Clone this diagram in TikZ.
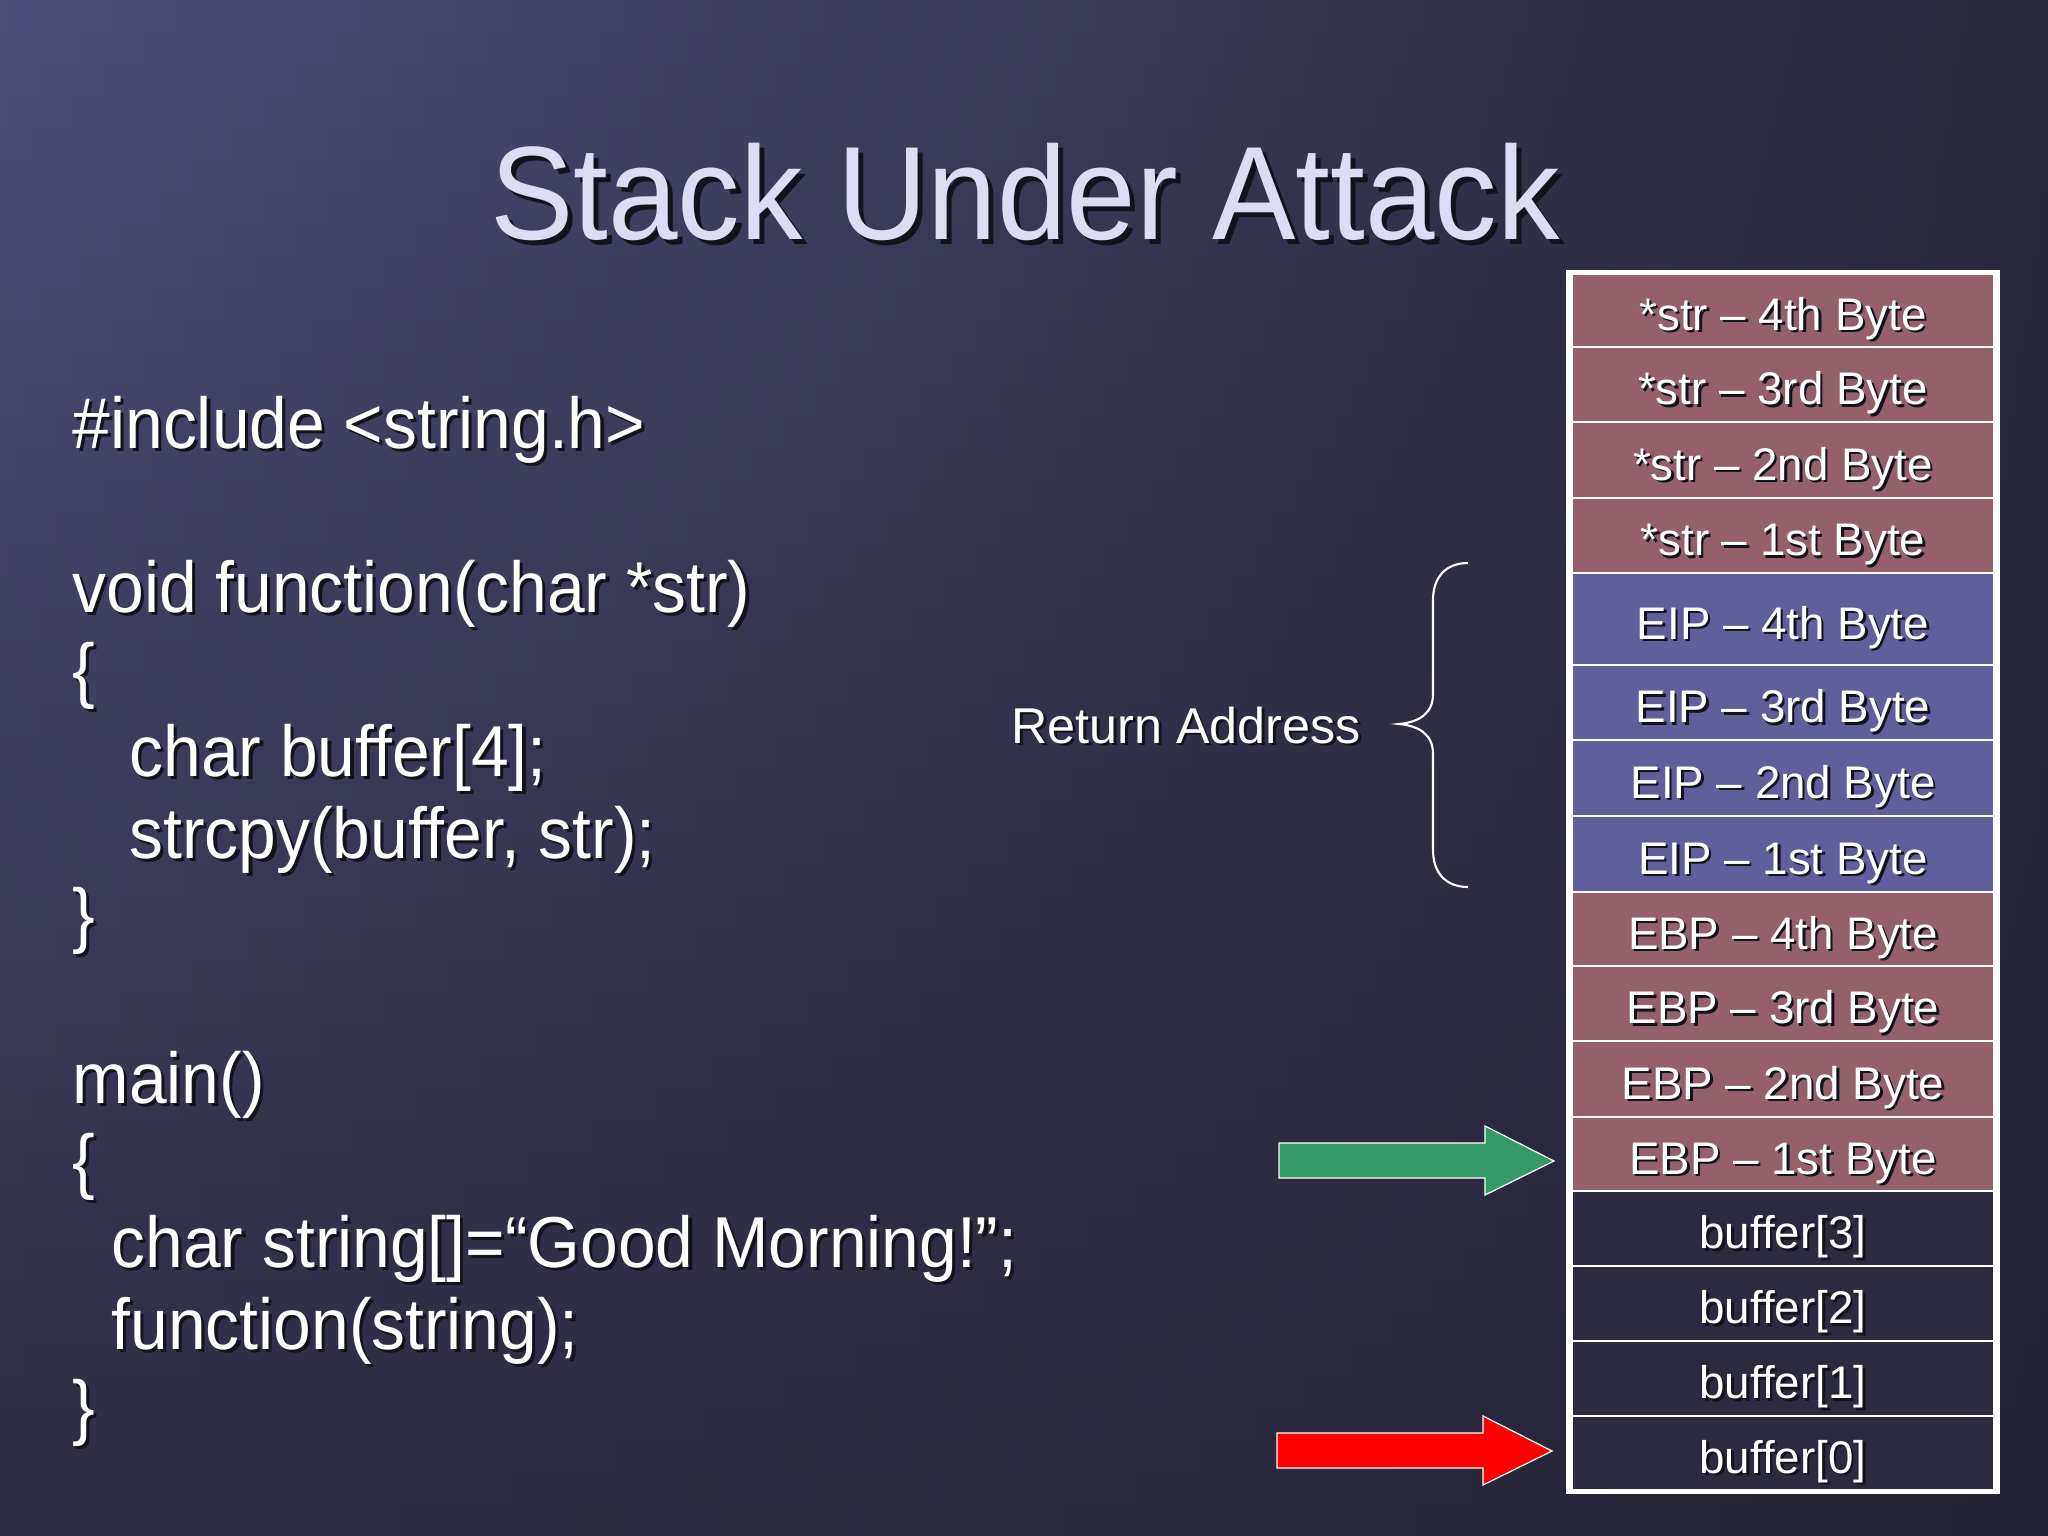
\documentclass[tikz,border=0pt]{standalone}
\usepackage{fontspec}
\setmainfont{Liberation Sans}
\newfontfamily\narrowfont[FakeStretch=0.94]{Liberation Sans}
\definecolor{bgTL}{HTML}{4D4D79}
\definecolor{bgTM}{HTML}{4A4A72}
\definecolor{bgTR}{HTML}{28273B}
\definecolor{bgBL}{HTML}{2E2D44}
\definecolor{bgBM}{HTML}{302F47}
\definecolor{bgBR}{HTML}{252436}
\definecolor{strcol}{HTML}{94606B}
\definecolor{eipcol}{HTML}{605E9B}
\definecolor{bufcol}{HTML}{2B2A40}
\definecolor{greenarrow}{HTML}{339966}
\definecolor{titlecol}{HTML}{DCDCF5}
\definecolor{shadowcol}{HTML}{14131D}
\newcommand\shadowed[2]{\leavevmode\rlap{\kern#1\raisebox{-#1}{\color{shadowcol}#2}}#2}
\tikzset{
  codetxt/.style={anchor=base west, inner sep=0pt, text=white, font=\narrowfont\fontsize{20.5}{24}\selectfont},
  cellbox/.style={minimum width=4.2cm, inner sep=0pt, text=white, text height=11.4pt, text depth=0pt, font=\fontsize{13}{15}\selectfont},
  blockarrow/.style={draw=white, line width=0.35pt, line join=miter},
  bracestyle/.style={draw=white, line width=0.6pt}
}
\begin{document}
\begin{tikzpicture}[x=0.01cm, y=-0.01cm]
\useasboundingbox (0,0) rectangle (2048,1536);
% background gradient
\foreach \i in {0,...,47}{
  \pgfmathsetmacro\p{100*(1-(\i+0.5)/48)}
  \pgfmathsetmacro\ya{\i*32}
  \pgfmathsetmacro\yb{\i*32+33}
  \shade[left color=bgTL!\p!bgBL, middle color=bgTM!\p!bgBM, right color=bgTR!\p!bgBR] (0,\ya) rectangle (2048,\yb);
}
% title
\node[anchor=base, inner sep=0pt, text=titlecol, font=\narrowfont\fontsize{37.8}{42}\selectfont] (title) at (1025,239) {\shadowed{1.5pt}{Stack Under Attack}};
% code
\node[codetxt] (c0) at (72,448) {\shadowed{0.9pt}{\#include <string.h>}};
\node[codetxt] (c2) at (72,612) {\shadowed{0.9pt}{void function(char *str)}};
\node[codetxt] (c3) at (72,694) {\shadowed{0.9pt}{\{}};
\node[codetxt] (c4) at (129,776) {\shadowed{0.9pt}{char buffer[4];}};
\node[codetxt] (c5) at (129,858) {\shadowed{0.9pt}{strcpy(buffer, str);}};
\node[codetxt] (c6) at (72,939) {\shadowed{0.9pt}{\}}};
\node[codetxt] (c8) at (72,1103) {\shadowed{0.9pt}{main()}};
\node[codetxt] (c9) at (72,1185) {\shadowed{0.9pt}{\{}};
\node[codetxt] (c10) at (111,1267) {\shadowed{0.9pt}{char string[]=“Good Morning!”;}};
\node[codetxt] (c11) at (111,1349) {\shadowed{0.9pt}{function(string);}};
\node[codetxt] (c12) at (72,1431) {\shadowed{0.9pt}{\}}};
% stack table
\fill[white] (1566,270) rectangle (2000,1494);
\node[cellbox, fill=strcol, minimum height=0.708cm] (s4) at (1783,310.4) {\shadowed{0.7pt}{*str – 4th Byte}};
\node[cellbox, fill=strcol, minimum height=0.726cm] (s3) at (1783,384.5) {\shadowed{0.7pt}{*str – 3rd Byte}};
\node[cellbox, fill=strcol, minimum height=0.736cm] (s2) at (1783,460) {\shadowed{0.7pt}{*str – 2nd Byte}};
\node[cellbox, fill=strcol, minimum height=0.726cm] (s1) at (1783,535.5) {\shadowed{0.7pt}{*str – 1st Byte}};
\node[cellbox, fill=eipcol, minimum height=0.896cm] (e4) at (1783,619) {\shadowed{0.7pt}{EIP – 4th Byte}};
\node[cellbox, fill=eipcol, minimum height=0.726cm] (e3) at (1783,702.5) {\shadowed{0.7pt}{EIP – 3rd Byte}};
\node[cellbox, fill=eipcol, minimum height=0.736cm] (e2) at (1783,778) {\shadowed{0.7pt}{EIP – 2nd Byte}};
\node[cellbox, fill=eipcol, minimum height=0.736cm] (e1) at (1783,854) {\shadowed{0.7pt}{EIP – 1st Byte}};
\node[cellbox, fill=strcol, minimum height=0.716cm] (b4) at (1783,929) {\shadowed{0.7pt}{EBP – 4th Byte}};
\node[cellbox, fill=strcol, minimum height=0.726cm] (b3) at (1783,1003.5) {\shadowed{0.7pt}{EBP – 3rd Byte}};
\node[cellbox, fill=strcol, minimum height=0.736cm] (b2) at (1783,1079) {\shadowed{0.7pt}{EBP – 2nd Byte}};
\node[cellbox, fill=strcol, minimum height=0.716cm] (b1) at (1783,1154) {\shadowed{0.7pt}{EBP – 1st Byte}};
\node[cellbox, fill=bufcol, minimum height=0.726cm] (f3) at (1783,1228.5) {\shadowed{0.7pt}{buffer[3]}};
\node[cellbox, fill=bufcol, minimum height=0.726cm] (f2) at (1783,1303.5) {\shadowed{0.7pt}{buffer[2]}};
\node[cellbox, fill=bufcol, minimum height=0.726cm] (f1) at (1783,1378.5) {\shadowed{0.7pt}{buffer[1]}};
\node[cellbox, fill=bufcol, minimum height=0.718cm] (f0) at (1783,1453.1) {\shadowed{0.7pt}{buffer[0]}};
% return address label and brace
\node[anchor=base, inner sep=0pt, text=white, font=\fontsize{14.3}{17}\selectfont] (ret) at (1186,743) {\shadowed{0.8pt}{Return Address}};
\draw[bracestyle] (1468,563) .. controls (1446,563) and (1433,577) .. (1433,600) -- (1433,694)
  .. controls (1433,713) and (1420,722) .. (1399,724)
  .. controls (1420,726) and (1433,735) .. (1433,754) -- (1433,850)
  .. controls (1433,873) and (1446,887) .. (1468,887);
% arrows
\coordinate (gtip) at (1554,1161);
\coordinate (rtip) at (1552,1451);
\draw[blockarrow, fill=greenarrow] (gtip) -- ++(-69,-35) -- ++(0,17) -- ++(-206,0) -- ++(0,35) -- ++(206,0) -- ++(0,17) -- cycle;
\draw[blockarrow, fill=red] (rtip) -- ++(-69,-35) -- ++(0,17) -- ++(-206,0) -- ++(0,35) -- ++(206,0) -- ++(0,17) -- cycle;
\end{tikzpicture}
\end{document}
